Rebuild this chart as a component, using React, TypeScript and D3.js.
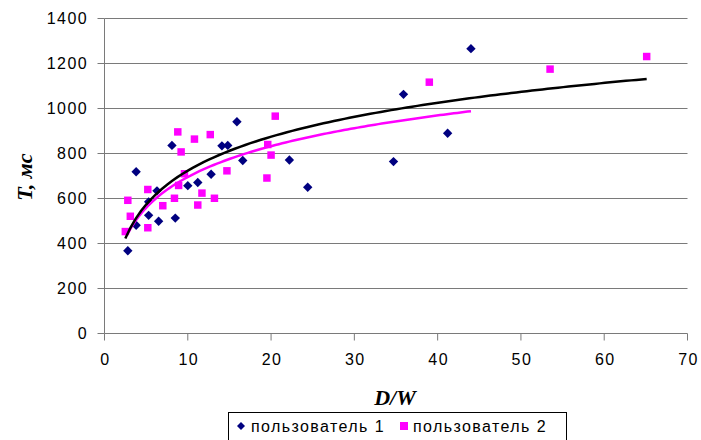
import { useEffect } from "react";
import * as d3 from "d3";

// пользователь 1 (navy diamonds)
const user1X = [2.8, 3.8, 3.8, 5.3, 5.3, 6.3, 6.5, 8.1, 8.5, 10.0, 11.2, 12.8, 14.1, 14.8, 15.9, 16.6, 22.2, 24.4, 34.7, 35.9, 41.2, 44.0];
const user1Y = [368, 719, 481, 585, 525, 634, 499, 836, 513, 657, 671, 708, 834, 836, 941, 769, 771, 650, 764, 1063, 890, 1266];

// пользователь 2 (magenta squares)
const user2X = [2.5, 2.8, 3.1, 5.2, 5.2, 7.0, 8.4, 8.9, 8.8, 9.2, 9.6, 10.8, 11.2, 11.7, 12.7, 13.2, 14.7, 19.5, 19.6, 20.0, 20.5, 39.0, 53.5, 65.1];
const user2Y = [453, 592, 521, 640, 470, 568, 601, 658, 896, 807, 710, 864, 571, 624, 884, 601, 723, 691, 840, 793, 966, 1117, 1175, 1231];

const xTicks = [0, 10, 20, 30, 40, 50, 60, 70];
const yTicks = [0, 200, 400, 600, 800, 1000, 1200, 1400];
const seriesNames = ["пользователь 1", "пользователь 2"];

const NAVY = "#000080";
const MAGENTA = "#ff00ff";
const GRID = "#7a7a7a";

// logarithmic least-squares trend, like the spreadsheet trendline
function logFit(xs: number[], ys: number[]) {
  const lx = xs.map(Math.log);
  const mx = d3.mean(lx) as number;
  const my = d3.mean(ys) as number;
  let sxy = 0;
  let sxx = 0;
  lx.forEach((v, i) => {
    sxy += (v - mx) * (ys[i] - my);
    sxx += (v - mx) * (v - mx);
  });
  const b = sxy / sxx;
  const a = my - b * mx;
  const [x0, x1] = d3.extent(xs) as [number, number];
  return d3.range(0, 101).map((i) => {
    const x = x0 + ((x1 - x0) * i) / 100;
    return [x, a + b * Math.log(x)] as [number, number];
  });
}

export default function App() {
  useEffect(() => {
    document.body.style.margin = "0";
  }, []);

  const x = d3.scaleLinear().domain([0, 70]).range([104.5, 687.5]);
  const y = d3.scaleLinear().domain([0, 1400]).range([333.5, 18.5]);

  const line = d3.line<[number, number]>().x((d) => x(d[0])).y((d) => y(d[1]));
  const trend1 = logFit(user1X, user1Y);
  const trend2 = logFit(user2X, user2Y);

  const diamond = d3.symbol(d3.symbolSquare, 44)();
  const square = d3.symbol(d3.symbolSquare, 56)();

  const sans = "Arial, 'Liberation Sans', sans-serif";
  const serif = "'Times New Roman', 'Liberation Serif', serif";

  return (
    <svg width={701} height={440} style={{ display: "block", background: "#fff" }}>
      {/* gridlines */}
      {yTicks.filter((t) => t > 0).map((t) => (
        <line key={"g" + t} x1={x(0)} x2={x(70)} y1={y(t)} y2={y(t)} stroke={GRID} strokeWidth={1} />
      ))}
      {/* axes */}
      <line x1={x(0)} x2={x(0)} y1={y(0)} y2={y(1400)} stroke={GRID} />
      <line x1={x(0)} x2={x(70)} y1={y(0)} y2={y(0)} stroke={GRID} />
      {yTicks.map((t) => (
        <g key={"y" + t}>
          <line x1={x(0) - 7} x2={x(0)} y1={y(t)} y2={y(t)} stroke={GRID} />
          <text x={88} y={y(t) + 5.5} textAnchor="end" fontFamily={sans} fontSize={16} letterSpacing={1.4} fill="#000">
            {t}
          </text>
        </g>
      ))}
      {xTicks.map((t) => (
        <g key={"x" + t}>
          <line x1={x(t)} x2={x(t)} y1={y(0)} y2={y(0) + 7} stroke={GRID} />
          <text x={x(t) + 1} y={365} textAnchor="middle" fontFamily={sans} fontSize={16} letterSpacing={1.4} fill="#000">
            {t}
          </text>
        </g>
      ))}

      {/* markers */}
      {user1X.map((v, i) => (
        <path key={"a" + i} d={diamond} transform={`translate(${x(v)},${y(user1Y[i])}) rotate(45)`} fill={NAVY} />
      ))}
      {user2X.map((v, i) => (
        <path key={"b" + i} d={square} transform={`translate(${x(v)},${y(user2Y[i])})`} fill={MAGENTA} />
      ))}

      {/* trendlines */}
      <path d={line(trend1) || ""} fill="none" stroke={MAGENTA} strokeWidth={2.5} />
      <path d={line(trend2) || ""} fill="none" stroke="#000" strokeWidth={2.5} />

      {/* axis titles */}
      <text
        transform="translate(32,177) rotate(-90)"
        textAnchor="middle"
        fontFamily={serif}
        fontStyle="italic"
        fontWeight="bold"
        fontSize={22}
      >
        T, мс
      </text>
      <text x={395} y={405} textAnchor="middle" fontFamily={serif} fontStyle="italic" fontWeight="bold" fontSize={22}>
        D/W
      </text>

      {/* legend */}
      <rect x={228.5} y={412.5} width={338} height={40} fill="#fff" stroke="#000" strokeWidth={1} />
      <path d={d3.symbol(d3.symbolSquare, 32)()} transform="translate(241,426) rotate(45)" fill={NAVY} />
      <text x={251} y={432} fontFamily={sans} fontSize={16} letterSpacing={1.4}>
        {seriesNames[0]}
      </text>
      <rect x={400} y={422} width={8} height={8} fill={MAGENTA} />
      <text x={413} y={432} fontFamily={sans} fontSize={16} letterSpacing={1.4}>
        {seriesNames[1]}
      </text>
    </svg>
  );
}
